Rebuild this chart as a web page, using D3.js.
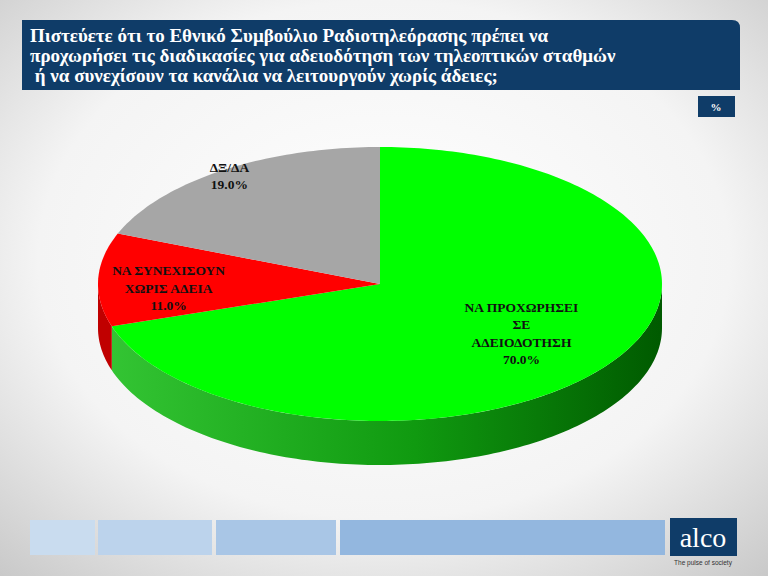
<!doctype html>
<html lang="el">
<head>
<meta charset="UTF-8" />
<script src="https://d3js.org/d3.v7.min.js"></script>
<style>
body { margin: 0; }
svg { display: block; }
</style>
</head>
<body>
<svg width="768" height="576"></svg>
<script>
const categories = ['ΝΑ ΠΡΟΧΩΡΗΣΕΙ ΣΕ ΑΔΕΙΟΔΟΤΗΣΗ', 'ΝΑ ΣΥΝΕΧΙΣΟΥΝ ΧΩΡΙΣ ΑΔΕΙΑ', 'ΔΞ/ΔΑ']
const labelLines = [['ΝΑ ΠΡΟΧΩΡΗΣΕΙ', 'ΣΕ', 'ΑΔΕΙΟΔΟΤΗΣΗ'], ['ΝΑ ΣΥΝΕΧΙΣΟΥΝ', 'ΧΩΡΙΣ ΑΔΕΙΑ'], ['ΔΞ/ΔΑ']]
const values = [70.0, 11.0, 19.0]
const colors = ['#00ff00', '#ff0000', '#a6a6a6']
const titleLines = [
	'Πιστεύετε ότι το Εθνικό Συμβούλιο Ραδιοτηλεόρασης πρέπει να',
	'προχωρήσει τις διαδικασίες για αδειοδότηση των τηλεοπτικών σταθμών',
	' ή να συνεχίσουν τα κανάλια να λειτουργούν χωρίς άδειες;'
]

const svg = d3.select('svg')
const defs = svg.append('defs')
const bg = defs.append('radialGradient').attr('id', 'bg').attr('cx', '50%').attr('cy', '45%').attr('r', '75%')
bg.append('stop').attr('offset', '0%').attr('stop-color', '#ffffff')
bg.append('stop').attr('offset', '60%').attr('stop-color', '#f4f4f4')
bg.append('stop').attr('offset', '100%').attr('stop-color', '#c8c8c8')
const gs = defs.append('linearGradient').attr('id', 'gside')
gs.append('stop').attr('offset', '0%').attr('stop-color', '#33c433')
gs.append('stop').attr('offset', '55%').attr('stop-color', '#109a10')
gs.append('stop').attr('offset', '100%').attr('stop-color', '#005a00')

svg.append('rect').attr('width', 768).attr('height', 576).attr('fill', 'url(#bg)')

// header
svg.append('path').attr('d', 'M22,20 H732 Q740,20 740,28 V90 H22 Z').attr('fill', '#0f3c68')
svg.append('g').selectAll('text').data(titleLines).join('text')
	.attr('x', 30).attr('y', (d, i) => 42 + i * 20)
	.attr('font-family', 'Liberation Serif').attr('font-weight', 'bold').attr('font-size', 19)
	.attr('fill', '#fff').attr('xml:space', 'preserve').text(d => d)
svg.append('rect').attr('x', 698).attr('y', 96).attr('width', 37).attr('height', 21).attr('fill', '#0f3c68')
svg.append('text').attr('x', 716).attr('y', 111).attr('text-anchor', 'middle').attr('fill', '#fff')
	.attr('font-family', 'Liberation Serif').attr('font-weight', 'bold').attr('font-size', 11).text('%')

// 3D pie
const cx = 380, cy = 284, rx = 282, ry = 137, depth = 44
const pt = (a, f = 1) => [cx + rx * f * Math.sin(a), cy - ry * f * Math.cos(a)]
const arcs = d3.pie().sort(null).startAngle(0).endAngle(2 * Math.PI)(values)

function arcPts(a0, a1, dy) {
	const n = Math.max(2, Math.ceil((a1 - a0) / 0.02))
	return d3.range(n + 1).map(i => {
		const p = pt(a0 + (a1 - a0) * i / n)
		return [p[0], p[1] + dy]
	})
}
const line = d3.line()
const g = svg.append('g')
// sides (front half: angles PI/2..3PI/2)
arcs.forEach((d, i) => {
	const a0 = Math.max(d.startAngle, Math.PI / 2), a1 = Math.min(d.endAngle, 3 * Math.PI / 2)
	if (a1 <= a0) return
	const top = arcPts(a0, a1, 0)
	const bot = arcPts(a0, a1, depth).reverse()
	g.append('path').attr('d', line(top.concat(bot)) + 'Z')
		.attr('fill', i === 0 ? 'url(#gside)' : '#c00000')
})
// tops
arcs.forEach((d, i) => {
	g.append('path').attr('d', line([[cx, cy]].concat(arcPts(d.startAngle, d.endAngle, 0))) + 'Z')
		.attr('fill', colors[i])
})
// labels
const labelF = [0.62, 0.75, 0.95]
const lbl = svg.append('g').attr('font-family', 'Liberation Serif').attr('font-weight', 'bold')
	.attr('font-size', 13.5).attr('text-anchor', 'middle').attr('fill', '#111')
arcs.forEach((d, i) => {
	const lines = labelLines[i].concat([d3.format('.1f')(values[i]) + '%'])
	const [x, y] = pt((d.startAngle + d.endAngle) / 2, labelF[i])
	const y0 = y - (lines.length - 1) * 17.5 / 2 + 4 + (i === 1 ? 8 : 0)
	lines.forEach((t, j) => lbl.append('text').attr('x', x).attr('y', y0 + j * 17.5).text(t))
})

// footer
const bars = [[30, 95, '#c9dcef'], [98, 212, '#bcd3ec'], [216, 336, '#a9c6e6'], [340, 665, '#93b7df']]
svg.append('g').selectAll('rect').data(bars).join('rect')
	.attr('x', d => d[0]).attr('y', 520).attr('width', d => d[1] - d[0]).attr('height', 35).attr('fill', d => d[2])
svg.append('rect').attr('x', 670).attr('y', 518).attr('width', 67).attr('height', 38).attr('fill', '#0f3c68')
svg.append('text').attr('x', 703).attr('y', 547).attr('text-anchor', 'middle').attr('fill', '#fff')
	.attr('font-family', 'Liberation Serif').attr('font-size', 28).text('alco')
svg.append('text').attr('x', 703).attr('y', 565).attr('text-anchor', 'middle').attr('fill', '#333')
	.attr('font-family', 'Liberation Sans').attr('font-size', 6.5).text('The pulse of society')
</script>
</body>
</html>
